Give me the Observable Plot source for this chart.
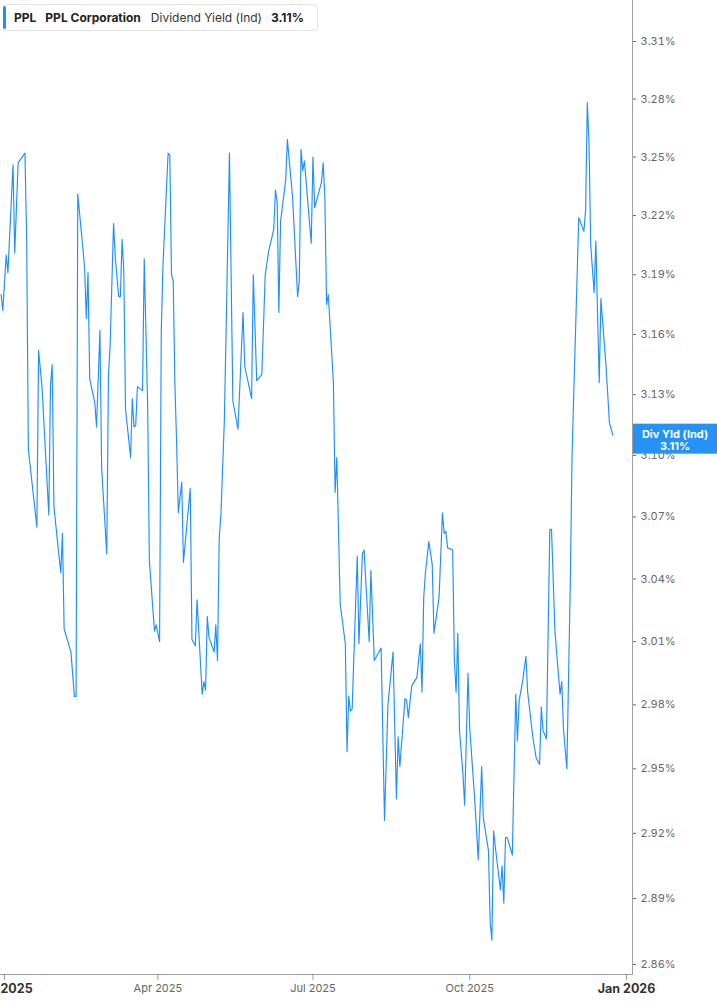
<!DOCTYPE html>
<html><head><meta charset="utf-8">
<script src="https://cdn.jsdelivr.net/npm/d3@7"></script>
<script src="https://cdn.jsdelivr.net/npm/@observablehq/plot@0.6"></script>
<style>
body{margin:0;background:#fff;font-family:Inter,"Noto Sans",sans-serif;}
#wrap{position:relative;width:717px;height:1005px;overflow:hidden;}
#hdr{position:absolute;left:3px;top:4px;height:25px;padding:0 13px 0 10px;border:1px solid #e4e4e4;border-radius:4px;background:#fff;display:flex;align-items:center;font-size:12px;color:#222;white-space:nowrap;z-index:2;}
#hdr .bar{position:absolute;left:-1px;top:1px;bottom:1px;width:3px;background:#1e8fff;border-radius:2px;}
#hdr b{font-weight:700;}
#hdr span{margin-right:9px;}
svg{display:block;}
</style></head>
<body><div id="wrap"><div id="hdr"><div class="bar"></div></div></div>
<script>
const ticker = "PPL";
const company = "PPL Corporation";
const metric = "Dividend Yield (Ind)";
const shortMetric = "Div Yld (Ind)";

const dates = ["2024-12-30","2024-12-31","2025-01-02","2025-01-03","2025-01-06","2025-01-07","2025-01-09","2025-01-13","2025-01-14","2025-01-15","2025-01-20","2025-01-21","2025-01-23","2025-01-27","2025-01-28","2025-01-29","2025-01-30","2025-02-03","2025-02-04","2025-02-05","2025-02-09","2025-02-11","2025-02-12","2025-02-13","2025-02-17","2025-02-18","2025-02-19","2025-02-20","2025-02-23","2025-02-24","2025-02-26","2025-02-27","2025-03-02","2025-03-03","2025-03-04","2025-03-06","2025-03-07","2025-03-09","2025-03-10","2025-03-11","2025-03-12","2025-03-13","2025-03-16","2025-03-17","2025-03-18","2025-03-19","2025-03-20","2025-03-23","2025-03-24","2025-03-26","2025-03-27","2025-03-30","2025-03-31","2025-04-02","2025-04-03","2025-04-04","2025-04-07","2025-04-08","2025-04-09","2025-04-10","2025-04-11","2025-04-12","2025-04-13","2025-04-15","2025-04-16","2025-04-20","2025-04-21","2025-04-23","2025-04-24","2025-04-27","2025-04-28","2025-04-29","2025-04-30","2025-05-01","2025-05-04","2025-05-05","2025-05-06","2025-05-07","2025-05-08","2025-05-10","2025-05-11","2025-05-13","2025-05-15","2025-05-18","2025-05-21","2025-05-22","2025-05-26","2025-05-27","2025-05-29","2025-06-01","2025-06-03","2025-06-05","2025-06-08","2025-06-09","2025-06-10","2025-06-11","2025-06-12","2025-06-15","2025-06-16","2025-06-19","2025-06-22","2025-06-23","2025-06-24","2025-06-25","2025-06-26","2025-06-30","2025-07-01","2025-07-02","2025-07-06","2025-07-07","2025-07-08","2025-07-09","2025-07-10","2025-07-13","2025-07-14","2025-07-15","2025-07-17","2025-07-20","2025-07-21","2025-07-22","2025-07-23","2025-07-24","2025-07-27","2025-07-28","2025-07-30","2025-07-31","2025-08-03","2025-08-04","2025-08-06","2025-08-10","2025-08-12","2025-08-14","2025-08-17","2025-08-19","2025-08-20","2025-08-21","2025-08-24","2025-08-25","2025-08-26","2025-08-27","2025-08-28","2025-08-31","2025-09-02","2025-09-03","2025-09-04","2025-09-05","2025-09-07","2025-09-09","2025-09-10","2025-09-13","2025-09-15","2025-09-16","2025-09-17","2025-09-18","2025-09-21","2025-09-22","2025-09-23","2025-09-24","2025-09-25","2025-09-27","2025-09-28","2025-09-30","2025-10-01","2025-10-04","2025-10-06","2025-10-08","2025-10-09","2025-10-12","2025-10-13","2025-10-14","2025-10-15","2025-10-17","2025-10-19","2025-10-20","2025-10-21","2025-10-22","2025-10-23","2025-10-26","2025-10-28","2025-10-29","2025-10-30","2025-11-01","2025-11-03","2025-11-04","2025-11-07","2025-11-09","2025-11-11","2025-11-12","2025-11-13","2025-11-15","2025-11-17","2025-11-18","2025-11-20","2025-11-23","2025-11-24","2025-11-25","2025-11-27","2025-11-29","2025-11-30","2025-12-01","2025-12-03","2025-12-04","2025-12-07","2025-12-08","2025-12-09","2025-12-10","2025-12-11","2025-12-13","2025-12-14","2025-12-16","2025-12-17","2025-12-20","2025-12-22","2025-12-24"];

const yields = [3.180,3.172,3.200,3.191,3.246,3.201,3.247,3.252,3.208,3.103,3.065,3.152,3.134,3.071,3.135,3.145,3.075,3.043,3.062,3.016,3.005,2.984,2.984,3.231,3.194,3.168,3.191,3.138,3.126,3.114,3.162,3.094,3.052,3.139,3.155,3.216,3.199,3.179,3.179,3.208,3.192,3.123,3.099,3.128,3.114,3.115,3.134,3.132,3.198,3.125,3.049,3.015,3.018,3.010,3.162,3.195,3.252,3.251,3.190,3.187,3.135,3.106,3.072,3.087,3.048,3.084,3.011,3.008,3.030,2.985,2.991,2.987,3.022,3.012,3.005,3.018,3.001,3.060,3.071,3.117,3.160,3.252,3.127,3.113,3.171,3.144,3.128,3.190,3.137,3.140,3.190,3.202,3.213,3.233,3.227,3.171,3.217,3.238,3.259,3.230,3.179,3.187,3.254,3.243,3.248,3.206,3.250,3.224,3.237,3.247,3.229,3.175,3.180,3.136,3.082,3.099,3.028,3.009,2.958,2.984,2.977,2.978,3.051,3.009,3.052,3.054,3.010,3.044,3.001,3.007,2.926,2.980,3.005,2.936,2.965,2.951,2.983,2.982,2.974,2.982,2.989,2.993,3.009,2.986,3.031,3.043,3.058,3.047,3.014,3.031,3.072,3.062,3.063,3.055,3.054,3.001,2.986,3.014,2.968,2.948,2.933,2.995,2.969,2.935,2.908,2.951,2.927,2.912,2.879,2.871,2.921,2.907,2.894,2.905,2.888,2.918,2.918,2.910,2.985,2.963,2.982,2.991,3.003,2.986,2.965,2.955,2.952,2.979,2.968,2.964,3.064,3.064,3.015,2.985,2.991,2.969,2.950,3.037,3.098,3.129,3.189,3.219,3.212,3.223,3.278,3.257,3.205,3.181,3.207,3.136,3.178,3.144,3.116,3.110];

const yTicks = [2.86,2.89,2.92,2.95,2.98,3.01,3.04,3.07,3.10,3.13,3.16,3.19,3.22,3.25,3.28,3.31];
const xTickDates = ["2025-01-01","2025-04-01","2025-07-01","2025-10-01","2026-01-01"];
const xTickLabels = ["2025","Apr 2025","Jul 2025","Oct 2025","Jan 2026"];
const xTickBold = [true,false,false,false,true];

const data = dates.map((d,i)=>({date:new Date(d), value:yields[i]}));
const xt = xTickDates.map((d,i)=>({date:new Date(d), label:xTickLabels[i], bold:xTickBold[i]}));
const lastVal = yields[yields.length-1];
const lineColor = "#1e8fff";

const hdr = document.getElementById("hdr");
hdr.insertAdjacentHTML("beforeend",
  `<span style="margin-right:9px"><b>${ticker}</b></span><span style="margin-right:10px"><b>${company}</b></span><span style="color:#333">${metric}</span><span style="margin-right:0"><b>${lastVal.toFixed(2)}%</b></span>`);

const chart = Plot.plot({
  width: 717, height: 1005,
  marginTop: 0, marginBottom: 31, marginLeft: 0, marginRight: 85,
  style: {fontFamily: "Inter, 'Noto Sans', sans-serif", background: "#fff", overflow: "visible"},
  x: {type: "utc", domain: [new Date(xTickDates[0]), new Date(xTickDates[4])], range: [4, 626], label: null},
  y: {type: "log", domain: [yTicks[0], yTicks[yTicks.length-1]], range: [964, 41], label: null},
  marks: [
    Plot.line(data, {x: "date", y: "value", stroke: lineColor, strokeWidth: 1.15}),
    Plot.frame({anchor: "right", stroke: "#a0a0a0"}),
    Plot.frame({anchor: "bottom", stroke: "#a0a0a0"}),
    Plot.axisY(yTicks, {anchor: "right", label: null, tickSize: 3, tickPadding: 5, color: "#666", fontSize: 11, tickFormat: d => d.toFixed(2) + "%"}),
    Plot.axisX(xt.map(d=>d.date), {anchor: "bottom", label: null, tickSize: 6, stroke: "#999", tickFormat: () => ""}),
    Plot.text(xt.filter(d=>!d.bold), {x: "date", text: "label", frameAnchor: "bottom", dy: 17, fill: "#666", fontSize: 11}),
    Plot.text(xt.slice(0,1), {x: "date", text: "label", frameAnchor: "bottom", dy: 18, dx: -4, textAnchor: "start", fill: "#333", fontSize: 12.5, fontWeight: "bold"}),
    Plot.text(xt.slice(4), {x: "date", text: "label", frameAnchor: "bottom", dy: 18, fill: "#333", fontSize: 12.5, fontWeight: "bold"})
  ]
});

// end-value badge on the right axis, positioned with the chart's own y scale
const ys = chart.scale("y").apply(lastVal);
const g = d3.select(chart).append("g");
g.append("rect").attr("x", 633).attr("y", ys - 11).attr("width", 84).attr("height", 30).attr("fill", "#2592f5");
g.append("text").attr("x", 675).attr("y", ys + 3).attr("text-anchor", "middle").attr("fill", "#fff")
  .attr("font-size", 11).attr("font-weight", "bold").text(shortMetric);
g.append("text").attr("x", 675).attr("y", ys + 15).attr("text-anchor", "middle").attr("fill", "#fff")
  .attr("font-size", 11).attr("font-weight", "bold").text(lastVal.toFixed(2) + "%");

document.getElementById("wrap").appendChild(chart);
</script></body></html>
